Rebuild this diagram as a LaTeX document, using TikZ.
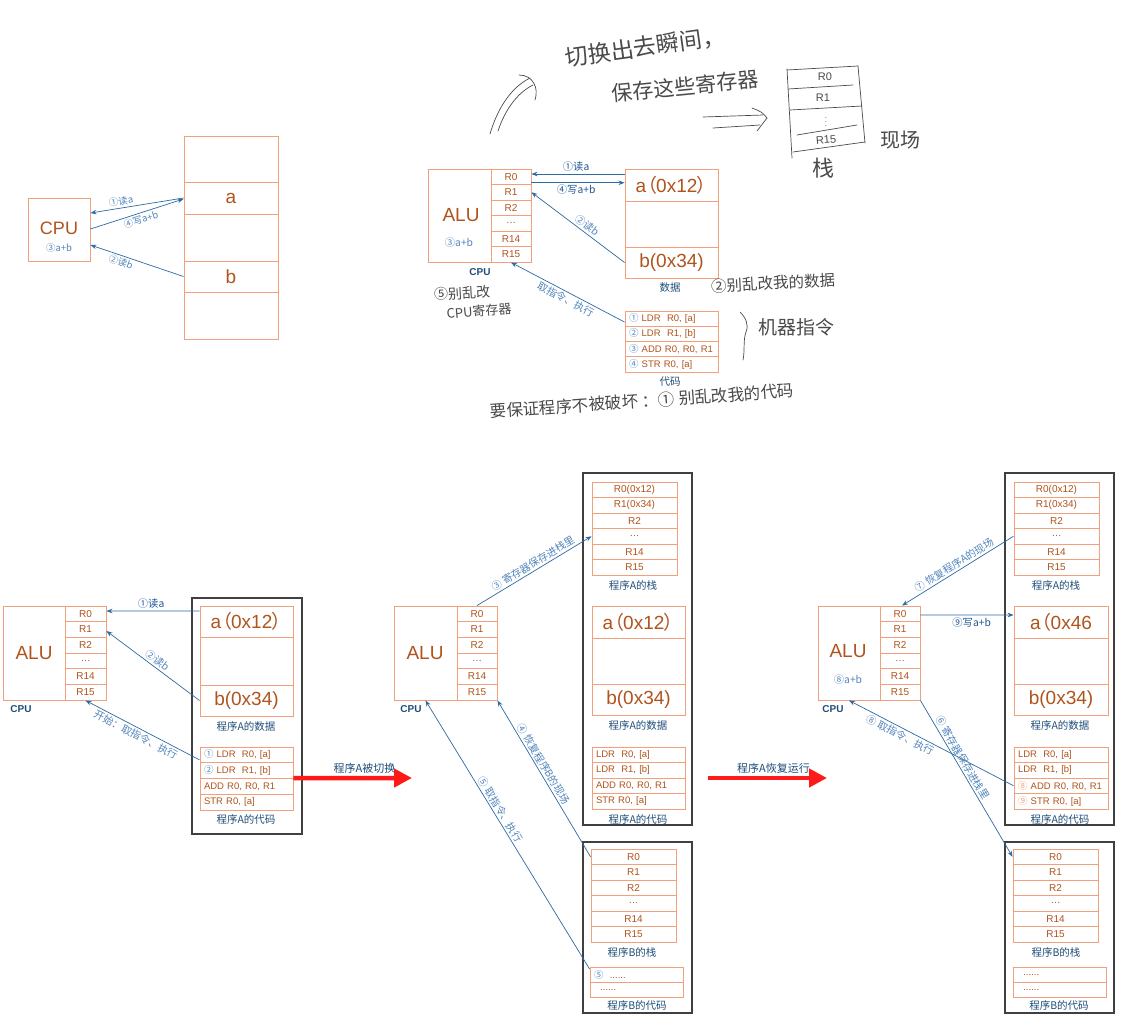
\documentclass[tikz,border=0pt]{standalone}
\usepackage{fontspec}
\setmainfont{Liberation Sans}
\newfontfamily\cjk{Noto Sans CJK SC}
\usetikzlibrary{arrows.meta,calc}
\definecolor{boxc}{HTML}{F2A07C}
\definecolor{txtc}{HTML}{B0531C}
\definecolor{arrc}{HTML}{2D6BA3}
\definecolor{lblc}{HTML}{5285BC}
\definecolor{lbld}{HTML}{1F5591}
\definecolor{capc}{HTML}{1F4E79}
\definecolor{hand}{HTML}{4A4A4A}
\definecolor{redc}{HTML}{FF1A1A}
\tikzset{
 cell/.style={draw=boxc, line width=0.9pt, inner sep=0pt, text=txtc, font=\fontsize{10}{12}\selectfont},
 codecell/.style={cell, align=left, inner xsep=4pt, font=\fontsize{9.5}{11}\selectfont},
 big/.style={font=\fontsize{19}{22}\selectfont, text=txtc},
 outerbox/.style={draw=black!75, line width=1.2pt, inner sep=0pt},
 arr/.style={draw=arrc, line width=0.7pt, -{Stealth[length=6pt,width=4.5pt]}},
 arrb/.style={draw=arrc, line width=0.7pt, {Stealth[length=6pt,width=4.5pt]}-},
 lbl/.style={font=\cjk\fontsize{10.3}{11}\selectfont, text=lblc, inner sep=2pt},
 lbldk/.style={font=\cjk\fontsize{10.3}{11}\selectfont, text=lbld, inner sep=2pt},
 capt/.style={font=\cjk\fontsize{10.5}{12}\selectfont, text=capc, inner sep=1pt},
 cpucap/.style={font=\bfseries\fontsize{10}{12}\selectfont, text=capc, inner sep=1pt},
 hw/.style={font=\cjk\fontsize{18}{20}\selectfont, text=hand, inner sep=1pt},
 hline/.style={draw=hand, line width=0.7pt, line cap=round},
 redarr/.style={draw=redc, line width=4.5pt, -{Triangle[length=18pt,width=18pt]}},
 redlbl/.style={font=\cjk\fontsize{11}{12}\selectfont, text=capc, inner sep=2pt},
}
\newcommand\rowcol[7]{%
 \foreach \t [count=\i from 0] in {#7} {\node[#2, minimum width=#4pt, minimum height=#6pt] (#1\i) at (#3,{#5+#6*(\i+0.5)}) {\t};}}
\newcommand\bigA[1]{a{\cjk\kern-8pt（\kern-1pt}0x#1}
\newcommand\bigC{{\cjk\kern-1pt）\kern-8pt}}
\newcommand\dotsix{\ \ ......}
\begin{document}
\begin{tikzpicture}[x=1pt,y=-1pt]
\fill[white] (0,0) rectangle (1122,1026);
\useasboundingbox (0,0) rectangle (1122,1026);

% ================= top-left
\node[cell, minimum width=62pt, minimum height=63pt] (tlcpu) at (59,229.5) {};
\node[big, font=\fontsize{18}{20}\selectfont, inner sep=1pt] (tlcpuT) at (59,228) {CPU};
\node[lbl, inner sep=1pt, font=\cjk\fontsize{9.5}{10}\selectfont] (tlsum) at (59,248) {③a+b};
\node[cell, minimum width=94pt, minimum height=46pt] (tlm1) at (231,159) {};
\node[cell, big, minimum width=94pt, minimum height=32pt] (tlm2) at (231,198) {a};
\node[cell, minimum width=94pt, minimum height=47pt] (tlm3) at (231,237.5) {};
\node[cell, big, minimum width=94pt, minimum height=31pt] (tlm4) at (231,276.5) {b};
\node[cell, minimum width=94pt, minimum height=47pt] (tlm5) at (231,315.5) {};
\draw[arrb] ([yshift=16.5pt]tlcpu.east) -- node[lbl,sloped,above,pos=.34,font=\cjk\fontsize{9.5}{10}\selectfont]{①读a} (tlm2.west);
\draw[arr] ([yshift=0.5pt]tlcpu.east) -- node[lbl,sloped,below,pos=.52,font=\cjk\fontsize{9.5}{10}\selectfont]{④写a+b} ([yshift=-1pt]tlm2.west);
\draw[arrb] ([yshift=-15.5pt]tlcpu.east) -- node[lbl,sloped,below,pos=.35,font=\cjk\fontsize{9.5}{10}\selectfont]{②读b} (tlm4.west);

% ================= top-middle
\node[cell, minimum width=63pt, minimum height=93pt] (tmalu) at (459.5,215.5) {};
\node[big, inner sep=1pt] (tmaluT) at (461,215) {ALU};
\node[lbl, inner sep=1pt] (tmsum) at (459,243) {③a+b};
\rowcol{tm}{cell}{511}{40}{169}{15.5}{R0,R1,R2,\ldots,R14,R15}
\node[cpucap] (tmcap) at (480,272) {CPU};
\node[cell, big, minimum width=93pt, minimum height=32pt] (tmd1) at (671.5,185) {\bigA{12}\bigC};
\node[cell, minimum width=93pt, minimum height=46pt] (tmd2) at (671.5,224) {};
\node[cell, big, minimum width=93pt, minimum height=31pt] (tmd3) at (671.5,262.5) {b(0x34)};
\node[capt] (tmdcap) at (670,288) {数据};
\rowcol{tmc}{codecell, text width=85pt}{671.5}{93}{311}{15.25}{{{\cjk\color{lblc}①}\ LDR\ \ R0, [a]},{{\cjk\color{lblc}②}\ LDR\ \ R1, [b]},{{\cjk\color{lblc}③}\ ADD R0, R0, R1},{{\cjk\color{lblc}④}\ STR R0, [a]}}
\node[capt] (tmccap) at (670,382) {代码};
\draw[arrb] ([yshift=2.75pt]tm0.east) -- node[lbldk,above,pos=.48]{①读a} ([yshift=11pt]tmd1.west);
\draw[arr] ([yshift=-6pt]tm0.east) -- node[lbldk,below,pos=.48]{④写a+b} ([yshift=2.25pt]tmd1.west);
\draw[arrb] (tm1.east) -- node[lbl,sloped,above,pos=.55]{②读b} (tmd3.west);
\draw[arrb] (tm5.south) -- node[lbl,sloped,below,pos=.51]{取指令、执行} ([yshift=-3.4pt]tmc0.west);

% ================= handwriting
\node[hw, font=\cjk\fontsize{23}{25}\selectfont, rotate=8] (hw1) at (645,47) {切换出去瞬间，};
\node[hw, font=\cjk\fontsize{21}{23}\selectfont, rotate=5.5] (hw2) at (685,86) {保存这些寄存器};
\draw[hline] (490,134) .. controls (497,110) and (510,88) .. (530,78);
\draw[hline] (498,131) .. controls (505,110) and (517,93) .. (533,85);
\draw[hline] (519,75) .. controls (533,75) and (539,88) .. (535,100);
\draw[hline] (703,117) -- (763,115);
\draw[hline] (713,128) -- (760,125);
\draw[hline] (752,108) .. controls (762,112) .. (767,118) .. controls (762,124) .. (757,131);
\draw[hline] (787,69) -- (792,158);
\draw[hline] (858,66) -- (865,143);
\draw[hline] (787,70) -- (858,66);
\draw[hline] (788,89) -- (853,85);
\draw[hline] (790,110) -- (862,106);
\draw[hline] (797,135) -- (857,125);
\draw[hline] (793,152) -- (865,142);
\node[hw, font=\fontsize{11}{12}\selectfont] (hr0) at (825,77) {R0};
\node[hw, font=\fontsize{11}{12}\selectfont] (hr1) at (823,98) {R1};
\node[hw, font=\fontsize{7.5}{8}\selectfont, inner sep=0pt] (hrd) at (826,119) {$\vdots$};
\node[hw, font=\fontsize{11}{12}\selectfont, rotate=5] (hr15) at (826,140) {R15};
\node[hw, font=\cjk\fontsize{20}{22}\selectfont] (hxc) at (900,140) {现场};
\node[hw, font=\cjk\fontsize{22}{24}\selectfont] (hzhan) at (823,168) {栈};
\node[hw, font=\cjk\fontsize{14}{16}\selectfont, rotate=3] (h5a) at (462,293) {⑤别乱改};
\node[hw, font=\cjk\fontsize{13}{15}\selectfont, rotate=5] (h5b) at (479,311) {CPU寄存器};
\node[hw, font=\cjk\fontsize{15.5}{17}\selectfont, rotate=3] (h2) at (773,283) {②别乱改我的数据};
\draw[hline] (740,312) .. controls (746,318) and (749,325) .. (746,332) .. controls (743,340) and (745,350) .. (743,360);
\node[hw, font=\cjk\fontsize{19}{21}\selectfont] (hjq) at (796,327) {机器指令};
\node[hw, font=\cjk\fontsize{16.5}{18}\selectfont, rotate=4] (hyb) at (642,401) {要保证程序不被破坏 ：① 别乱改我的代码};

% ================= bottom-left
\node[outerbox, minimum width=110pt, minimum height=236pt] (blout) at (247,716) {};
\node[cell, minimum width=62pt, minimum height=94pt] (blalu) at (34,653) {};
\node[big, inner sep=1pt] (blaluT) at (34,653) {ALU};
\rowcol{bl}{cell}{85.5}{41}{606}{15.67}{R0,R1,R2,\ldots,R14,R15}
\node[cpucap] (blcap) at (21,709) {CPU};
\node[cell, big, minimum width=93pt, minimum height=31pt] (bld1) at (246.5,621.5) {\bigA{12}\bigC};
\node[cell, minimum width=93pt, minimum height=48pt] (bld2) at (246.5,661) {};
\node[cell, big, minimum width=93pt, minimum height=31pt] (bld3) at (246.5,700.5) {b(0x34)};
\node[capt] (bldcap) at (246,726) {程序A的数据};
\rowcol{blc}{codecell, text width=85pt}{246.5}{93}{747}{15.75}{{{\cjk\color{lblc}①}\ LDR\ \ R0, [a]},{{\cjk\color{lblc}②}\ LDR\ \ R1, [b]},{ADD R0, R0, R1},{STR R0, [a]}}
\node[capt] (blccap) at (246,819) {程序A的代码};
\draw[arrb] ([yshift=2.8pt]bl0.east) -- node[lbldk,above,pos=.48]{①读a} ([yshift=10.5pt]bld1.west);
\draw[arrb] ([yshift=-1.5pt]bl1.east) -- node[lbl,sloped,above,pos=.5]{②读b} (bld3.west);
\draw[arrb] (bl5.south) -- node[lbl,sloped,below,pos=.47]{开始：取指令、执行} ([yshift=-5pt]blc0.west);
\coordinate (redA) at (412,778);
\draw[redarr] ([yshift=-7.4pt]blc1.east) -- node[redlbl,above,pos=.6]{程序A被切换} (redA);

% ================= bottom-middle
\node[outerbox, minimum width=109pt, minimum height=352pt] (bmoutA) at (637.5,649) {};
\node[outerbox, minimum width=109pt, minimum height=171pt] (bmoutB) at (637.5,927.5) {};
\rowcol{bmsA}{cell}{634.5}{85}{482}{15.5}{R0(0x12),R1(0x34),R2,\ldots,R14,R15}
\node[capt] (bmsAcap) at (633,585) {程序A的栈};
\node[cell, big, minimum width=93pt, minimum height=32pt] (bmd1) at (638.5,622) {\bigA{12}\bigC};
\node[cell, minimum width=93pt, minimum height=46pt] (bmd2) at (638.5,661) {};
\node[cell, big, minimum width=93pt, minimum height=31pt] (bmd3) at (638.5,699.5) {b(0x34)};
\node[capt] (bmdcap) at (638,725) {程序A的数据};
\rowcol{bmc}{codecell, text width=85pt}{638.5}{93}{747}{15.5}{{LDR\ \ R0, [a]},{LDR\ \ R1, [b]},{ADD R0, R0, R1},{STR R0, [a]}}
\node[capt] (bmccap) at (638,819) {程序A的代码};
\rowcol{bmsB}{cell}{633.5}{85}{849}{15.5}{R0,R1,R2,\ldots,R14,R15}
\node[capt] (bmsBcap) at (632,952) {程序B的栈};
\rowcol{bmcB}{codecell, text width=85pt}{636.5}{93}{967}{15}{{{\cjk\color{lblc}⑤}\dotsix},{\dotsix}}
\node[capt] (bmcBcap) at (637,1005) {程序B的代码};
\node[cell, minimum width=63pt, minimum height=94pt] (bmalu) at (425.5,653) {};
\node[big, inner sep=1pt] (bmaluT) at (425,653) {ALU};
\rowcol{bm}{cell}{477}{40}{606}{15.67}{R0,R1,R2,\ldots,R14,R15}
\node[cpucap] (bmcap) at (411,709) {CPU};
\draw[arr] (bm0.north) -- node[lbl,sloped,above,pos=.52]{③ 寄存器保存进栈里} (bmsA3.west);
\draw[arrb] (bm5.south east) -- node[lbl,sloped,above,pos=.43]{④ 恢复程序B的现场} (bmsB0.west);
\draw[arrb] (bmalu.south) -- node[lbl,sloped,above,pos=.42]{⑤ 取指令、执行} ([yshift=5.5pt]bmcB0.west);
\coordinate (redB1) at (708,778);
\coordinate (redB2) at (827,778);
\draw[redarr] (redB1) -- node[redlbl,above,pos=.55]{程序A恢复运行} (redB2);

% ================= bottom-right
\node[outerbox, minimum width=109pt, minimum height=352pt] (broutA) at (1059.5,649) {};
\node[outerbox, minimum width=109pt, minimum height=171pt] (broutB) at (1059.5,927.5) {};
\rowcol{brsA}{cell}{1056.5}{85}{482}{15.5}{R0(0x12),R1(0x34),R2,\ldots,R14,R15}
\node[capt] (brsAcap) at (1056,585) {程序A的栈};
\node[cell, big, minimum width=94pt, minimum height=32pt] (brd1) at (1061,622) {\bigA{46}};
\node[cell, minimum width=94pt, minimum height=46pt] (brd2) at (1061,661) {};
\node[cell, big, minimum width=94pt, minimum height=31pt] (brd3) at (1061,699.5) {b(0x34)};
\node[capt] (brdcap) at (1060,725) {程序A的数据};
\rowcol{brc}{codecell, text width=86pt}{1061}{94}{747}{15.5}{{LDR\ \ R0, [a]},{LDR\ \ R1, [b]},{{\cjk\color{boxc}⑧}\ ADD R0, R0, R1},{{\cjk\color{boxc}⑨}\ STR R0, [a]}}
\node[capt] (brccap) at (1060,819) {程序A的代码};
\rowcol{brsB}{cell}{1055.5}{85}{849}{15.5}{R0,R1,R2,\ldots,R14,R15}
\node[capt] (brsBcap) at (1056,952) {程序B的栈};
\rowcol{brcB}{codecell, text width=85pt}{1059.5}{93}{967}{15}{{\dotsix},{\dotsix}}
\node[capt] (brcBcap) at (1059,1005) {程序B的代码};
\node[cell, minimum width=62pt, minimum height=94pt] (bralu) at (849,653) {};
\node[big, inner sep=1pt] (braluT) at (848,651) {ALU};
\node[lbl, inner sep=1pt] (brsum) at (848,680) {⑧a+b};
\rowcol{br}{cell}{900}{40}{606}{15.67}{R0,R1,R2,\ldots,R14,R15}
\node[cpucap] (brcap) at (833,709) {CPU};
\draw[arrb] ([xshift=2pt]br0.north) -- node[lbl,sloped,above,pos=.5]{⑦ 恢复程序A的现场} (brsA3.west);
\draw[arr] ([yshift=-1.2pt]br0.east) -- node[lbldk,below,pos=.55]{⑨写a+b} ([yshift=7pt]brd1.west);
\draw[arrb] (bralu.south) -- node[lbl,sloped,below,pos=.33]{⑧ 取指令、执行} (brc2.west);
\draw[arr] (br5.south east) -- node[lbl,sloped,above,pos=.39]{⑥ 寄存器保存进栈里} (brsB0.west);
\end{tikzpicture}
\end{document}
